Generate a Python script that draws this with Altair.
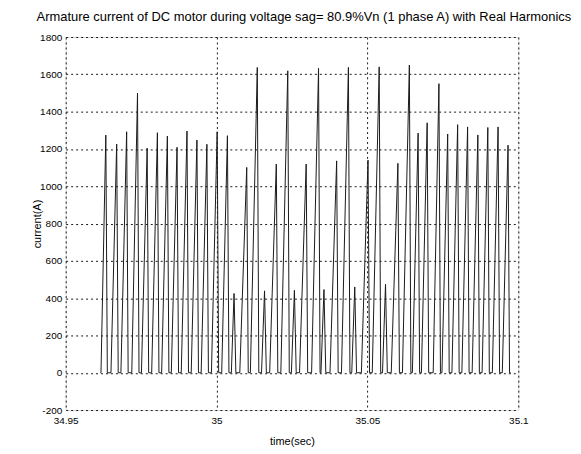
import altair as alt
import pandas as pd

# Pulse data (time in s, current in A)
t_begin = 34.9615
t_finish = 35.0975
t_start = [34.9617, 34.9650, 34.9683, 34.9719, 34.9751, 34.9785, 34.9818, 34.9850,
           34.9883, 34.9916, 34.9949, 34.9983, 35.0017, 35.0049, 35.0077, 35.0112,
           35.0149, 35.0176, 35.0213, 35.0248, 35.0275, 35.0315, 35.0346, 35.0376,
           35.0414, 35.0448, 35.0480, 35.0516, 35.0550, 35.0579, 35.0616, 35.0649,
           35.0679, 35.0718, 35.0747, 35.0780, 35.0813, 35.0847, 35.0880, 35.0914,
           35.0947]
t_peak = [34.9633, 34.9669, 34.9702, 34.9738, 34.9770, 34.9804, 34.9837, 34.9869,
          34.9902, 34.9935, 34.9968, 35.0002, 35.0036, 35.0058, 35.0100, 35.0135,
          35.0159, 35.0198, 35.0236, 35.0258, 35.0297, 35.0338, 35.0356, 35.0398,
          35.0437, 35.0458, 35.0502, 35.0539, 35.0560, 35.0601, 35.0639, 35.0668,
          35.0698, 35.0737, 35.0766, 35.0799, 35.0832, 35.0866, 35.0899, 35.0933,
          35.0966]
t_end = [34.9638, 34.9674, 34.9707, 34.9743, 34.9775, 34.9809, 34.9842, 34.9874,
         34.9907, 34.9940, 34.9973, 35.0007, 35.0041, 35.0064, 35.0105, 35.0140,
         35.0165, 35.0203, 35.0241, 35.0264, 35.0302, 35.0343, 35.0362, 35.0403,
         35.0442, 35.0464, 35.0507, 35.0544, 35.0566, 35.0606, 35.0644, 35.0673,
         35.0703, 35.0742, 35.0771, 35.0804, 35.0837, 35.0871, 35.0904, 35.0938,
         35.0971]
i_peak = [1274, 1226, 1292, 1499, 1204, 1287, 1269, 1209,
          1296, 1248, 1225, 1292, 1271, 425, 1101, 1637,
          439, 1119, 1619, 442, 1119, 1632, 446, 1136,
          1637, 460, 1140, 1640, 474, 1123, 1650, 1285,
          1340, 1550, 1280, 1330, 1318, 1275, 1315, 1318,
          1220]

x_ticks = [34.95, 35.0, 35.05, 35.1]
y_ticks = [-200, 0, 200, 400, 600, 800, 1000, 1200, 1400, 1600, 1800]

rows = [(t_begin, 0.0)]
for a, b, c, p in zip(t_start, t_peak, t_end, i_peak):
    rows += [(a, 0.0), (b, float(p)), (c, 0.0)]
rows.append((t_finish, 0.0))
df = pd.DataFrame(rows, columns=["t", "i"])
df["k"] = range(len(df))

FONT = "Liberation Sans"

chart = alt.Chart(df).mark_line(color="#1a1a1a", strokeWidth=1, interpolate="linear").encode(
    x=alt.X("t:Q", scale=alt.Scale(domain=[34.95, 35.1], nice=False, zero=False),
            axis=alt.Axis(values=x_ticks, labelExpr="format(datum.value, '~g')",
                          title="time(sec)", grid=True, gridColor="black",
                          gridDash=[2, 3], gridOpacity=0.9, ticks=False,
                          labelFlush=False, labelOverlap=False, labelPadding=6,
                          titlePadding=10, domain=False, titleFontWeight="normal")),
    y=alt.Y("i:Q", scale=alt.Scale(domain=[-200, 1800], nice=False, zero=False),
            axis=alt.Axis(values=y_ticks, labelExpr="'' + datum.value", title="current(A)",
                          grid=True, gridColor="black", gridDash=[2, 3],
                          gridOpacity=0.9, ticks=False, labelFlush=False,
                          labelOverlap=False, labelPadding=4, domain=False,
                          titleX=-28, titleBaseline="middle", titleFontWeight="normal")),
    order="k:Q",
).properties(
    width=455,
    height=375,
    title=alt.TitleParams(
        "Armature current of DC motor during voltage sag= 80.9%Vn (1 phase A) with Real Harmonics",
        fontSize=13, font=FONT, fontWeight="normal", color="black", anchor="middle",
        dx=12, offset=8),
    autosize=alt.AutoSizeParams(type="none"),
    padding={"left": 58, "top": 28, "right": 55, "bottom": 42},
).configure_view(
    stroke="black", strokeWidth=1
).configure_axis(
    labelFont=FONT, labelFontSize=12, labelColor="black",
    titleFont=FONT, titleFontSize=12, titleFontWeight="normal", titleColor="black",
).configure(background="white")

chart.save("out.html", embed_options={"renderer": "svg", "actions": False})
